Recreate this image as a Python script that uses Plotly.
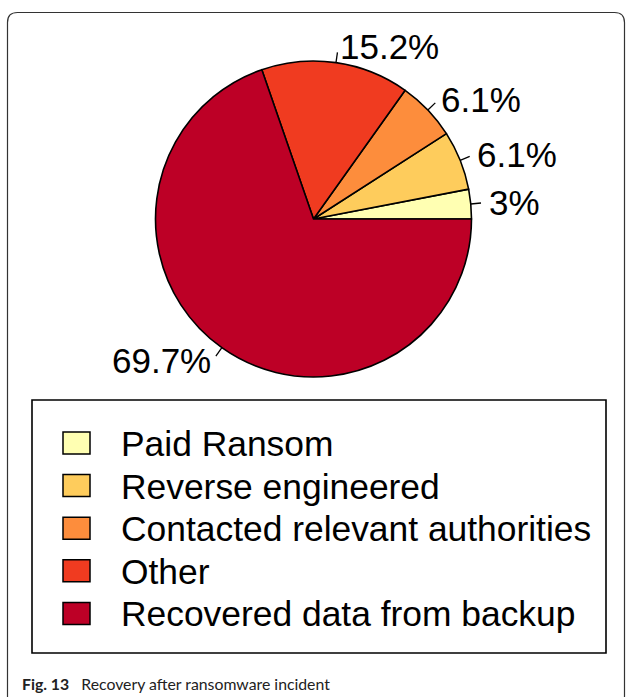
import math
import plotly.graph_objects as go

# ---- data ----
categories = ["Paid Ransom", "Reverse engineered", "Contacted relevant authorities",
              "Other", "Recovered data from backup"]
counts = [1, 2, 2, 5, 23]
pct_labels = ["3%", "6.1%", "6.1%", "15.2%", "69.7%"]
colors = ["#FFFFB2", "#FECC5C", "#FD8D3C", "#F03B20", "#BD0026"]
caption_bold = "Fig. 13"
caption_text = "Recovery after ransomware incident"

# ---- layout geometry (pixels) ----
W, H = 627, 697
CX, CY, R = 313.5, 219.0, 158.0


def px(x):
    return x / W


def py(y):
    return 1 - y / H


total = sum(counts)
# plotly: with counterclockwise direction the first slice ENDS at `rotation`,
# so shift by the first slice so that it starts at 3 o'clock.
rotation = 90 - 360.0 * counts[0] / total

fig = go.Figure()
fig.add_trace(go.Pie(
    values=counts,
    labels=categories,
    marker=dict(colors=colors, line=dict(color="black", width=1.6)),
    sort=False,
    direction="counterclockwise",
    rotation=rotation,
    textinfo="none",
    showlegend=False,
    hoverinfo="label+percent",
    domain=dict(x=[px(CX - R), px(CX + R)], y=[py(CY + R), py(CY - R)]),
))

shapes = []
annotations = []

# percentage labels with small radial ticks
cum = 0
for v, lab in zip(counts, pct_labels):
    mid = (cum + v / 2) / total
    cum += v
    th = 2 * math.pi * mid
    c, s = math.cos(th), math.sin(th)
    x0, y0 = CX + R * c, CY - R * s
    x1, y1 = CX + R * 1.065 * c, CY - R * 1.065 * s
    shapes.append(dict(type="line", xref="paper", yref="paper",
                       x0=px(x0), y0=py(y0), x1=px(x1), y1=py(y1),
                       line=dict(color="black", width=1.3)))
    xt, yt = CX + R * 1.1 * c, CY - R * 1.1 * s
    annotations.append(dict(
        xref="paper", yref="paper", x=px(xt), y=py(yt),
        xanchor="left" if c > 0 else "right", yanchor="middle",
        text=lab, showarrow=False,
        font=dict(family="Liberation Sans, Arial", size=35, color="black")))

# legend box
LX0, LY0, LX1, LY1 = 32, 400, 606, 653
shapes.append(dict(type="rect", xref="paper", yref="paper",
                   x0=px(LX0), y0=py(LY0), x1=px(LX1), y1=py(LY1),
                   line=dict(color="black", width=1.6), fillcolor="rgba(0,0,0,0)"))
row0, drow = 443.0, 42.6
for i, (cat, col) in enumerate(zip(categories, colors)):
    yc = row0 + i * drow
    shapes.append(dict(type="rect", xref="paper", yref="paper",
                       x0=px(63), x1=px(90), y0=py(yc - 11), y1=py(yc + 11),
                       line=dict(color="black", width=1.5), fillcolor=col))
    annotations.append(dict(
        xref="paper", yref="paper", x=px(119), y=py(yc + 1),
        xanchor="left", yanchor="middle", text=cat, showarrow=False,
        font=dict(family="Liberation Sans, Arial", size=35.4, color="black")))

# caption
annotations.append(dict(
    xref="paper", yref="paper", x=px(20), y=py(683),
    xanchor="left", yanchor="middle", showarrow=False,
    text="<b>" + caption_bold + "</b>\u00a0\u00a0 " + caption_text,
    font=dict(family="Lato", size=15.8, color="#222222")))

# rounded outer frame
fx0, fy0, fx1, fy1, rr = 7.5, 12.5, 624.5, 706, 10
path = (f"M {px(fx0 + rr)},{py(fy0)} L {px(fx1 - rr)},{py(fy0)} "
        f"Q {px(fx1)},{py(fy0)} {px(fx1)},{py(fy0 + rr)} "
        f"L {px(fx1)},{py(fy1 - rr)} Q {px(fx1)},{py(fy1)} {px(fx1 - rr)},{py(fy1)} "
        f"L {px(fx0 + rr)},{py(fy1)} Q {px(fx0)},{py(fy1)} {px(fx0)},{py(fy1 - rr)} "
        f"L {px(fx0)},{py(fy0 + rr)} Q {px(fx0)},{py(fy0)} {px(fx0 + rr)},{py(fy0)} Z")
shapes.append(dict(type="path", xref="paper", yref="paper", path=path,
                   line=dict(color="#333333", width=1.2)))

fig.update_layout(
    width=W, height=H,
    margin=dict(l=0, r=0, t=0, b=0),
    paper_bgcolor="white", plot_bgcolor="white",
    shapes=shapes, annotations=annotations,
    showlegend=False,
)

fig.write_html("out.html",
               config={"displayModeBar": False},
               post_script="document.body.style.margin='0';document.body.style.overflow='hidden';")
